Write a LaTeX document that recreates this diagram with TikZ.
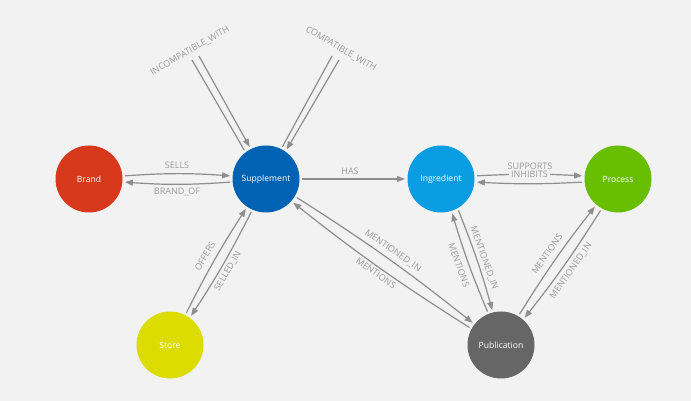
\documentclass[tikz,border=0pt]{standalone}
\usepackage{fontspec}
\setmainfont{Open Sans}
\usetikzlibrary{arrows.meta}
\definecolor{bg}{HTML}{F2F2F2}
\definecolor{edgec}{HTML}{8E8E8E}
\definecolor{lblc}{HTML}{9A9A9A}
\definecolor{cbrand}{HTML}{D8381C}
\definecolor{csupp}{HTML}{0062B2}
\definecolor{cingr}{HTML}{0A9DE2}
\definecolor{cproc}{HTML}{68BE00}
\definecolor{cstore}{HTML}{DCDC00}
\definecolor{cpub}{HTML}{666666}
\begin{document}
\begin{tikzpicture}[x=1pt,y=1pt,
  ent/.style={circle,minimum size=67pt,inner sep=0pt,outer sep=2.5pt,text=white,font=\fontsize{8.6}{10}\selectfont},
  plain/.style={draw=edgec,line width=1.2pt},
  rel/.style={plain,-{Triangle[length=8pt,width=6pt]}},
  lbl/.style={text=lblc,font=\fontsize{9}{10}\selectfont,inner sep=1pt}]
\fill[bg] (0,0) rectangle (691,401);
\useasboundingbox (0,0) rectangle (691,401);

\node[ent,fill=cbrand] (brand) at (89,222) {Brand};
\node[ent,fill=csupp] (supp) at (266,222) {Supplement};
\node[ent,fill=cingr] (ingr) at (441,222) {Ingredient};
\node[ent,fill=cproc] (proc) at (618,222) {Process};
\node[ent,fill=cstore] (store) at (170,56) {Store};
\node[ent,fill=cpub] (pub) at (501,56) {Publication};

% self loops on Supplement
\coordinate (incL) at (192,341);
\coordinate (incR) at (199,345);
\coordinate (compL) at (332,345);
\coordinate (compR) at (339,341);
\draw[plain] (incL) -- (supp.127);
\draw[rel] (incR) -- (supp.117);
\draw[plain] (compL) -- (supp.63);
\draw[rel] (compR) -- (supp.55);
\node[lbl,rotate=30] (lincomp) at (190,350) {INCOMPATIBLE\_WITH};
\node[lbl,rotate=-30] (lcomp) at (341,352) {COMPATIBLE\_WITH};

% Brand - Supplement
\draw[rel] (brand.5) to[bend left=4] (supp.175);
\draw[rel] (supp.185) to[bend left=4] (brand.-5);
\node[lbl] (lsells) at (177,236) {SELLS};
\node[lbl] (lbrandof) at (177,209) {BRAND\_OF};

% Supplement - Ingredient
\draw[rel] (supp.0) -- (ingr.180);
\node[lbl] (lhas) at (350,230) {HAS};

% Ingredient - Process
\draw[rel] (ingr.5) to[bend left=3] node[lbl,fill=bg,inner xsep=2pt] (linh) {INHIBITS} (proc.175);
\draw[rel] (proc.185) to[bend left=3] (ingr.-5);
\node[lbl] (lsup) at (530,235) {SUPPORTS};

% Store - Supplement
\draw[rel] (store.63) to[bend left=3] (supp.236);
\draw[rel] (supp.246) to[bend left=3] (store.54);
\node[lbl,rotate=60] (loffers) at (205,145) {OFFERS};
\node[lbl,rotate=60] (lselled) at (228,130) {SELLED\_IN};

% Supplement - Publication
\draw[rel] (supp.-31) to[bend left=3] (pub.142);
\draw[rel] (pub.151) to[bend left=3] (supp.-41);
\node[lbl,rotate=-35] (lsmi) at (393,150) {MENTIONED\_IN};
\node[lbl,rotate=-35] (lsm) at (376,128) {MENTIONS};

% Ingredient - Publication
\draw[rel] (pub.112) to[bend left=3] (ingr.-72);
\draw[rel] (ingr.-61) to[bend left=3] (pub.104);
\node[lbl,rotate=-70] (lim) at (459,136) {MENTIONS};
\node[lbl,rotate=-70] (limi) at (484,143) {MENTIONED\_IN};

% Process - Publication
\draw[rel] (pub.59) to[bend left=3] (proc.230);
\draw[rel] (proc.241) to[bend left=3] (pub.49);
\node[lbl,rotate=55] (lpm) at (547,147) {MENTIONS};
\node[lbl,rotate=55] (lpmi) at (571,130) {MENTIONED\_IN};
\end{tikzpicture}
\end{document}
